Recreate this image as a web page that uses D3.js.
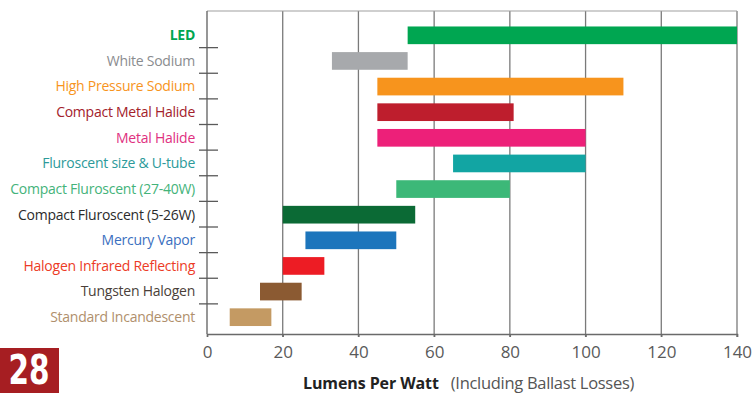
<!DOCTYPE html>
<html>
<head>
<meta charset="utf-8">
<script src="https://cdn.jsdelivr.net/npm/d3@7"></script>
<style>
  html, body { margin: 0; padding: 0; background: #ffffff; }
  svg { display: block; }
</style>
</head>
<body>
<svg id="chart" width="752" height="393"></svg>
<script>
// Lamp types, top to bottom
const lamps = [
  "LED",
  "White Sodium",
  "High Pressure Sodium",
  "Compact Metal Halide",
  "Metal Halide",
  "Fluroscent size & U-tube",
  "Compact Fluroscent (27-40W)",
  "Compact Fluroscent (5-26W)",
  "Mercury Vapor",
  "Halogen Infrared Reflecting",
  "Tungsten Halogen",
  "Standard Incandescent"
];
// Efficacy range of each lamp type, lumens per watt
const lowLPW  = [53, 33, 45, 45, 45, 65, 50, 20, 26, 20, 14, 6];
const highLPW = [140, 53, 110, 81, 100, 100, 80, 55, 50, 31, 25, 17];
const barColors = ["#00a651", "#a7a9ac", "#f7941d", "#be1e2d", "#ed2079", "#12a5a3",
                   "#3cb878", "#0b6a35", "#1c75bc", "#ed1c24", "#8b5a32", "#c49a63"];
const labelColors = ["#00a651", "#8a8c8f", "#f7941d", "#a3212b", "#e0307f", "#2c9a9a",
                     "#44b37a", "#2b2b2b", "#3b6fc0", "#ec3b26", "#4a3f3a", "#b08f6c"];
const xTicks = [0, 20, 40, 60, 80, 100, 120, 140];
const axisTitle = "Lumens Per Watt";
const axisNote = "(Including Ballast Losses)";
const pageNumber = "28";

const svg = d3.select("#chart");
const plotLeft = 207, plotRight = 737, plotTop = 11, plotBottom = 334;

const x = d3.scaleLinear().domain([0, 140]).range([plotLeft, plotRight]);
const y = d3.scaleBand().domain(lamps).range([22.5, 330]).paddingInner(0.31).paddingOuter(0.155);

// vertical grid lines
svg.append("g").selectAll("line")
  .data(xTicks.filter(d => d > 0))
  .join("line")
  .attr("x1", d => x(d)).attr("x2", d => x(d))
  .attr("y1", plotTop).attr("y2", plotBottom + 3)
  .attr("stroke", "#7a7a7a").attr("stroke-width", 1.3);

// top frame line
svg.append("line")
  .attr("x1", plotLeft).attr("x2", plotRight).attr("y1", plotTop).attr("y2", plotTop)
  .attr("stroke", "#a0a0a0").attr("stroke-width", 1.2);

// bars
svg.append("g").selectAll("rect")
  .data(lamps)
  .join("rect")
  .attr("x", (d, i) => x(lowLPW[i]))
  .attr("width", (d, i) => x(highLPW[i]) - x(lowLPW[i]))
  .attr("y", d => y(d))
  .attr("height", y.bandwidth())
  .attr("fill", (d, i) => barColors[i]);

// left axis line with separators between rows
svg.append("line")
  .attr("x1", plotLeft).attr("x2", plotLeft).attr("y1", plotTop).attr("y2", plotBottom)
  .attr("stroke", "#6a6a6a").attr("stroke-width", 1.4);
const step = y.step();
svg.append("g").selectAll("line")
  .data(lamps.slice(1))
  .join("line")
  .attr("x1", plotLeft - 8).attr("x2", plotLeft + 11)
  .attr("y1", d => y(d) - step * y.paddingInner() / 2 - 0.5)
  .attr("y2", d => y(d) - step * y.paddingInner() / 2 - 0.5)
  .attr("stroke", "#5a5a5a").attr("stroke-width", 1.3);

// bottom axis
const xAxis = d3.axisBottom(x).tickValues(xTicks).tickSize(3).tickPadding(9);
const gx = svg.append("g").attr("transform", `translate(0,${plotBottom})`).call(xAxis);
gx.select(".domain").attr("stroke", "#6a6a6a").attr("stroke-width", 1.4);
gx.selectAll(".tick line").attr("stroke", "#6a6a6a").attr("stroke-width", 1.4);
gx.selectAll(".tick text")
  .attr("font-family", "'Open Sans', 'Noto Sans', sans-serif")
  .attr("font-size", 17).attr("fill", "#5a5a5a");

// category labels
svg.append("g").selectAll("text")
  .data(lamps)
  .join("text")
  .attr("x", 195)
  .attr("y", d => y(d) + y.bandwidth() / 2)
  .attr("dy", "0.35em")
  .attr("text-anchor", "end")
  .attr("font-family", "'Open Sans', 'Noto Sans', sans-serif")
  .attr("font-size", 14)
  .attr("letter-spacing", -0.25)
  .attr("font-weight", (d, i) => i === 0 ? 700 : 400)
  .attr("fill", (d, i) => labelColors[i])
  .text(d => d);

// axis title
const title = svg.append("text")
  .attr("x", 303).attr("y", 389)
  .attr("font-family", "'Open Sans', 'Noto Sans', sans-serif");
title.append("tspan").attr("font-weight", 700).attr("font-size", 16).attr("fill", "#222")
  .attr("letter-spacing", -0.1).text(axisTitle);
title.append("tspan").attr("dx", 12).attr("font-size", 16.5).attr("fill", "#555")
  .attr("letter-spacing", -0.3).text(axisNote);

// page number badge
svg.append("rect").attr("x", 0).attr("y", 348).attr("width", 59).attr("height", 45).attr("fill", "#a61e22");
svg.append("g")
  .attr("transform", "translate(29,384) scale(0.82,1)")
  .append("text")
  .attr("text-anchor", "middle")
  .attr("font-family", "'Liberation Sans Narrow', 'DejaVu Sans Condensed', sans-serif")
  .attr("font-weight", 700).attr("font-size", 40)
  .attr("fill", "#ffffff")
  .text(pageNumber);
</script>
</body>
</html>
